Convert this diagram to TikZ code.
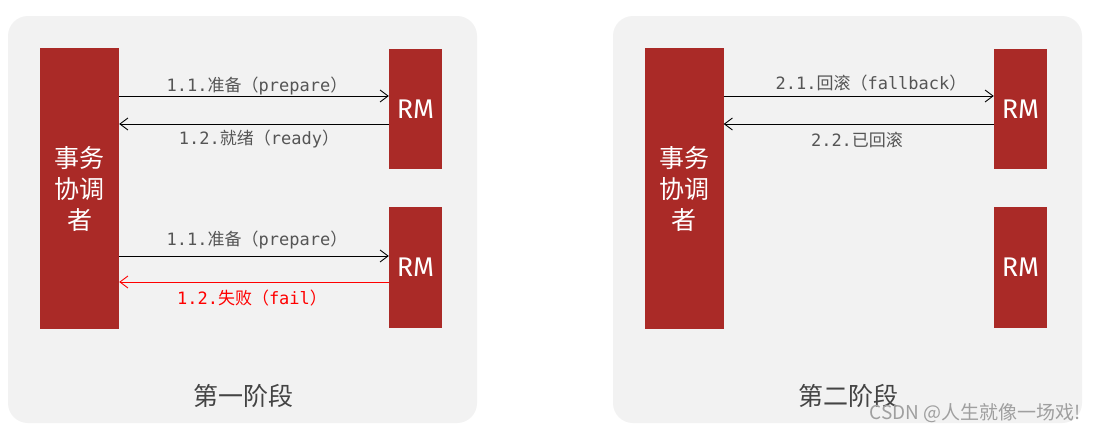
\documentclass[tikz,border=0pt]{standalone}
\usepackage{fontspec}
\setmainfont{Noto Sans}
\setmonofont{DejaVu Sans Mono}
\newfontfamily\cjk{Noto Sans CJK SC}
\newfontfamily\rmfont{Fira Sans}
\usetikzlibrary{arrows.meta}
\definecolor{panel}{HTML}{F2F2F2}
\definecolor{boxred}{HTML}{AA2A27}
\definecolor{lbl}{HTML}{555555}
\definecolor{title}{HTML}{444444}
\tikzset{
  panelbox/.style={fill=panel, draw=none, rounded corners=20pt},
  coordbox/.style={fill=boxred, draw=none, minimum width=79pt, minimum height=281pt, inner sep=0pt,
    text=white, font=\cjk\fontsize{25}{31}\selectfont, align=center},
  rmbox/.style={fill=boxred, draw=none, minimum width=53pt, minimum height=120pt, inner sep=0pt,
    text=white, font=\rmfont\fontsize{27}{27}\selectfont},
  msg/.style={draw=black, line width=0.9pt, -{Straight Barb[length=8pt,width=12pt,line width=0.9pt]}},
  failmsg/.style={msg, draw=red},
  lab/.style={text=lbl, font=\ttfamily\fontsize{17}{17}\selectfont, inner sep=0pt},
  titlelab/.style={text=title, font=\cjk\fontsize{25}{25}\selectfont, inner sep=0pt},
}
\begin{document}
\begin{tikzpicture}[x=1pt,y=-1pt]
\useasboundingbox (0,0) rectangle (1095,434);
\fill[white] (0,0) rectangle (1095,434);
% panels
\path[panelbox] (8,16) rectangle (477,423);
\path[panelbox] (613,16) rectangle (1082,423);
% left panel
\node[coordbox] (c1) at (79.5,188.5) {事务\\协调\\者};
\node[rmbox] (r1) at (415.5,109) {RM};
\node[rmbox, minimum height=121pt] (r2) at (415.5,267.5) {RM};
\draw[msg] (c1.east |- 0,96) -- (r1.west |- 0,96);
\draw[msg] (r1.west |- 0,124) -- (c1.east |- 0,124);
\draw[msg] (c1.east |- 0,256) -- (r2.west |- 0,256);
\draw[failmsg] (r2.west |- 0,282) -- (c1.east |- 0,282);
\node[lab] (l1) at (257,86) {1.1.{\cjk 准备（}prepare{\cjk ）}};
\node[lab] (l2) at (259,139) {1.2.{\cjk 就绪（}ready{\cjk ）}};
\node[lab] (l3) at (257,240) {1.1.{\cjk 准备（}prepare{\cjk ）}};
\node[lab, text=red] (l4) at (252,298) {1.2.{\cjk 失败（}fail{\cjk ）}};
\node[titlelab] (t1) at (243,396) {第一阶段};
% right panel
\node[coordbox] (c2) at (684,188.5) {事务\\协调\\者};
\node[rmbox] (r3) at (1020.5,109) {RM};
\node[rmbox, minimum height=121pt] (r4) at (1020.5,267.5) {RM};
\draw[msg] (c2.east |- 0,96) -- (r3.west |- 0,96);
\draw[msg] (r3.west |- 0,124) -- (c2.east |- 0,124);
\node[lab] (l5) at (871,83) {2.1.{\cjk 回滚（}fallback{\cjk ）}};
\node[lab] (l6) at (857,140) {2.2.{\cjk 已回滚}};
\node[titlelab] (t2) at (848,396) {第二阶段};
% watermark
\node[text=gray!75, font=\cjk\fontsize{19}{19}\selectfont, inner sep=0pt, anchor=east] (wm) at (1081,413) {CSDN @人生就像一场戏!};
\end{tikzpicture}
\end{document}
